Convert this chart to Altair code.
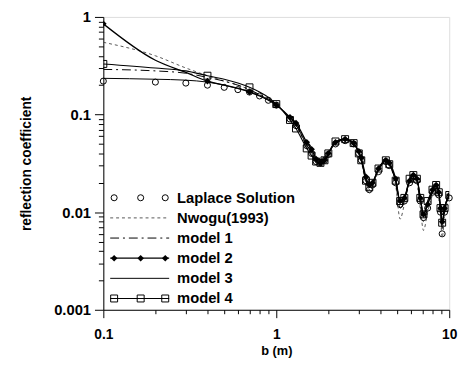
import altair as alt
import pandas as pd

# ---------------- data ----------------
b_early = [0.1, 0.2, 0.3, 0.4, 0.5, 0.6, 0.7, 0.8, 0.9, 1.0]
b_tail = [1.2, 1.3, 1.5, 1.6, 1.7, 1.8, 1.9, 2.0, 2.2, 2.5, 2.8, 3.0, 3.1, 3.3, 3.45,
          3.6, 3.9, 4.3, 4.5, 4.9, 5.2, 5.5, 5.9, 6.2, 6.5, 6.8, 7.1, 7.5, 8.0, 8.4,
          8.7, 8.9, 9.1, 9.4, 10.0]

laplace = [0.22, 0.215, 0.21, 0.2, 0.19, 0.18, 0.17, 0.155, 0.14, 0.125,
           0.090, 0.077, 0.048, 0.040, 0.033, 0.032, 0.034, 0.039, 0.050, 0.054,
           0.050, 0.040, 0.034, 0.021, 0.017, 0.019, 0.026, 0.033, 0.030, 0.020,
           0.012, 0.013, 0.020, 0.023, 0.021, 0.013, 0.0088, 0.011, 0.016, 0.018,
           0.015, 0.010, 0.006, 0.010, 0.014]
nwogu = [0.55, 0.40, 0.30, 0.25, 0.22, 0.20, 0.18, 0.16, 0.145, 0.128,
         0.090, 0.076, 0.047, 0.039, 0.032, 0.031, 0.033, 0.039, 0.051, 0.055,
         0.049, 0.039, 0.033, 0.019, 0.0155, 0.018, 0.026, 0.033, 0.030, 0.019,
         0.0085, 0.012, 0.020, 0.023, 0.020, 0.011, 0.0065, 0.010, 0.015, 0.018,
         0.014, 0.009, 0.0055, 0.009, 0.014]
model1 = [0.29, 0.28, 0.265, 0.24, 0.22, 0.20, 0.18, 0.16, 0.145, 0.127,
          0.091, 0.078, 0.048, 0.040, 0.032, 0.031, 0.033, 0.039, 0.051, 0.055,
          0.050, 0.040, 0.034, 0.021, 0.017, 0.019, 0.027, 0.033, 0.031, 0.020,
          0.011, 0.013, 0.021, 0.024, 0.021, 0.012, 0.008, 0.011, 0.016, 0.019,
          0.015, 0.010, 0.0068, 0.010, 0.015]
model2 = [0.85, 0.36, 0.27, 0.22, 0.20, 0.185, 0.17, 0.155, 0.14, 0.125,
          0.094, 0.082, 0.052, 0.044, 0.035, 0.032, 0.034, 0.040, 0.052, 0.056,
          0.051, 0.042, 0.036, 0.023, 0.019, 0.020, 0.028, 0.034, 0.032, 0.022,
          0.013, 0.014, 0.021, 0.024, 0.022, 0.014, 0.0095, 0.012, 0.017, 0.019,
          0.016, 0.011, 0.008, 0.011, 0.015]
model3 = [0.235, 0.23, 0.225, 0.215, 0.20, 0.185, 0.172, 0.157, 0.142, 0.126,
          0.092, 0.078, 0.049, 0.041, 0.033, 0.031, 0.033, 0.039, 0.051, 0.055,
          0.050, 0.041, 0.035, 0.022, 0.018, 0.020, 0.027, 0.033, 0.031, 0.021,
          0.013, 0.014, 0.021, 0.024, 0.022, 0.014, 0.0094, 0.012, 0.016, 0.019,
          0.016, 0.011, 0.0075, 0.011, 0.015]
model4 = [0.33, 0.30, 0.28, 0.25, 0.23, 0.21, 0.19, 0.17, 0.15, 0.128,
          0.088, 0.072, 0.045, 0.038, 0.033, 0.032, 0.034, 0.040, 0.053, 0.056,
          0.051, 0.040, 0.034, 0.021, 0.018, 0.020, 0.028, 0.034, 0.031, 0.021,
          0.013, 0.014, 0.022, 0.024, 0.022, 0.014, 0.0095, 0.013, 0.017, 0.019,
          0.016, 0.011, 0.0078, 0.011, 0.015]

marker_b_early = [0.1, 0.4, 0.7, 1.0]  # model 2 / model 4 marker positions before b = 1

legend_labels = ["Laplace Solution", "Nwogu(1993)", "model 1", "model 2", "model 3", "model 4"]

x_ticks = [0.1, 0.2, 0.3, 0.4, 0.5, 0.6, 0.7, 0.8, 0.9,
           1, 2, 3, 4, 5, 6, 7, 8, 9, 10]
y_ticks = [0.001, 0.002, 0.003, 0.004, 0.005, 0.006, 0.007, 0.008, 0.009,
           0.01, 0.02, 0.03, 0.04, 0.05, 0.06, 0.07, 0.08, 0.09,
           0.1, 0.2, 0.3, 0.4, 0.5, 0.6, 0.7, 0.8, 0.9, 1]

# ---------------- build table ----------------
b_all = b_early + b_tail
rows = []
for name, vals in [("laplace", laplace), ("nwogu", nwogu), ("model1", model1),
                   ("model2", model2), ("model3", model3), ("model4", model4)]:
    for b, v in zip(b_all, vals):
        mk = (b in marker_b_early) or (b > 1.0)
        rows.append({"b": b, "v": v, "series": name, "marker": mk})
df = pd.DataFrame(rows)

FONT = "Liberation Sans"
W, H = 352, 298

xscale = alt.Scale(type="log", domain=[0.1, 10], nice=False)
yscale = alt.Scale(type="log", domain=[0.001, 1], nice=False)

major_x = "indexof([0.1, 1, 10], datum.value) >= 0"
major_y = "indexof([0.001, 0.01, 0.1, 1], datum.value) >= 0"

xaxis = alt.Axis(values=x_ticks, title="b (m)", format="~g",
                 labelExpr=f"{major_x} ? datum.label : ''",
                 tickSize={"condition": {"test": major_x, "value": 8}, "value": 4},
                 labelFont=FONT, labelFontSize=14, labelFontWeight="bold",
                 titleFont=FONT, titleFontSize=13, titleFontWeight="bold",
                 labelPadding=10, titleY=41, titleBaseline="middle",
                 domainColor="black", tickColor="black", labelColor="black",
                 titleColor="black", grid=False, labelFlush=False, labelOverlap=False)
yaxis = alt.Axis(values=y_ticks, title="reflection coefficient", format="~g",
                 labelExpr=f"{major_y} ? datum.label : ''",
                 tickSize={"condition": {"test": major_y, "value": 9}, "value": 5},
                 labelFont=FONT, labelFontSize=15, labelFontWeight="bold",
                 titleFont=FONT, titleFontSize=14, titleFontWeight="bold",
                 labelPadding=4, titleX=-78, titleBaseline="middle",
                 domainColor="black", tickColor="black", labelColor="black",
                 titleColor="black", grid=False, labelFlush=False, labelOverlap=False)

base = alt.Chart(df)
X = alt.X("b:Q", scale=xscale, axis=xaxis)
Y = alt.Y("v:Q", scale=yscale, axis=yaxis)


def line(name, dash=None, width=1.0, color="black"):
    kw = dict(color=color, strokeWidth=width, clip=True, interpolate="monotone")
    if dash:
        kw["strokeDash"] = dash
    return base.transform_filter(f"datum.series == '{name}'").mark_line(**kw).encode(
        x=alt.X("b:Q", scale=xscale), y=alt.Y("v:Q", scale=yscale), order="b:Q")


def points(name, shape, filled, size):
    return base.transform_filter(
        f"datum.series == '{name}' && datum.marker").mark_point(
        shape=shape, filled=filled, size=size, color="black",
        strokeWidth=1, opacity=1, clip=True).encode(
        x=alt.X("b:Q", scale=xscale), y=alt.Y("v:Q", scale=yscale))


axes_layer = base.transform_filter("datum.series == 'laplace'").mark_point(
    shape="circle", filled=False, size=38, color="black", strokeWidth=1,
    opacity=1).encode(x=X, y=Y)

layers = [
    axes_layer,
    line("nwogu", dash=[3, 3], width=0.9, color="#444"),
    line("model1", dash=[9, 4, 2, 4], width=1.0),
    line("model3", width=1.0),
    line("model2", width=1.3),
    line("model4", width=1.1),
    points("model2", "diamond", True, 45),
    points("model4", "square", False, 50),
]

# ---------------- hand-made legend (pixel positions inside plot) ----------------
leg_x = [11, 38, 63]
leg_y0, leg_dy = 184, 20.5
leg_text_x = 75
leg_rows = pd.DataFrame({"label": legend_labels,
                         "y": [leg_y0 + i * leg_dy for i in range(len(legend_labels))]})
layers.append(alt.Chart(leg_rows).mark_text(
    align="left", baseline="middle", font=FONT, fontSize=15, fontWeight="bold",
    color="black").encode(x=alt.value(leg_text_x), y=alt.Y("y:Q", scale=None),
                          text="label:N"))

line_styles = {1: ([3, 3], "#444", 0.9), 2: ([9, 4, 2, 4], "black", 1.0),
               3: (None, "black", 1.3), 4: (None, "black", 1.0), 5: (None, "black", 1.1)}
for i, (dash, col, w) in line_styles.items():
    kw = dict(color=col, strokeWidth=w)
    if dash:
        kw["strokeDash"] = dash
    layers.append(alt.Chart(leg_rows.iloc[[i]]).mark_rule(**kw).encode(
        x=alt.value(leg_x[0] - 4), x2=alt.value(leg_x[2] + 4),
        y=alt.Y("y:Q", scale=None)))

sym = {0: ("circle", False, 38), 3: ("diamond", True, 45), 5: ("square", False, 50)}
for i, (shape, filled, size) in sym.items():
    pts = pd.DataFrame({"px": leg_x, "y": [leg_y0 + i * leg_dy] * 3})
    layers.append(alt.Chart(pts).mark_point(
        shape=shape, filled=filled, size=size, color="black", strokeWidth=1,
        opacity=1).encode(x=alt.X("px:Q", scale=None), y=alt.Y("y:Q", scale=None)))

chart = alt.layer(*layers).properties(
    width=W, height=H,
    autosize=alt.AutoSizeParams(type="none"),
    padding={"left": 97, "top": 6, "right": 14, "bottom": 48},
).configure_view(stroke="black", strokeWidth=1.2).configure(background="white")

chart.save("out.html", embed_options={"renderer": "svg", "actions": False})
